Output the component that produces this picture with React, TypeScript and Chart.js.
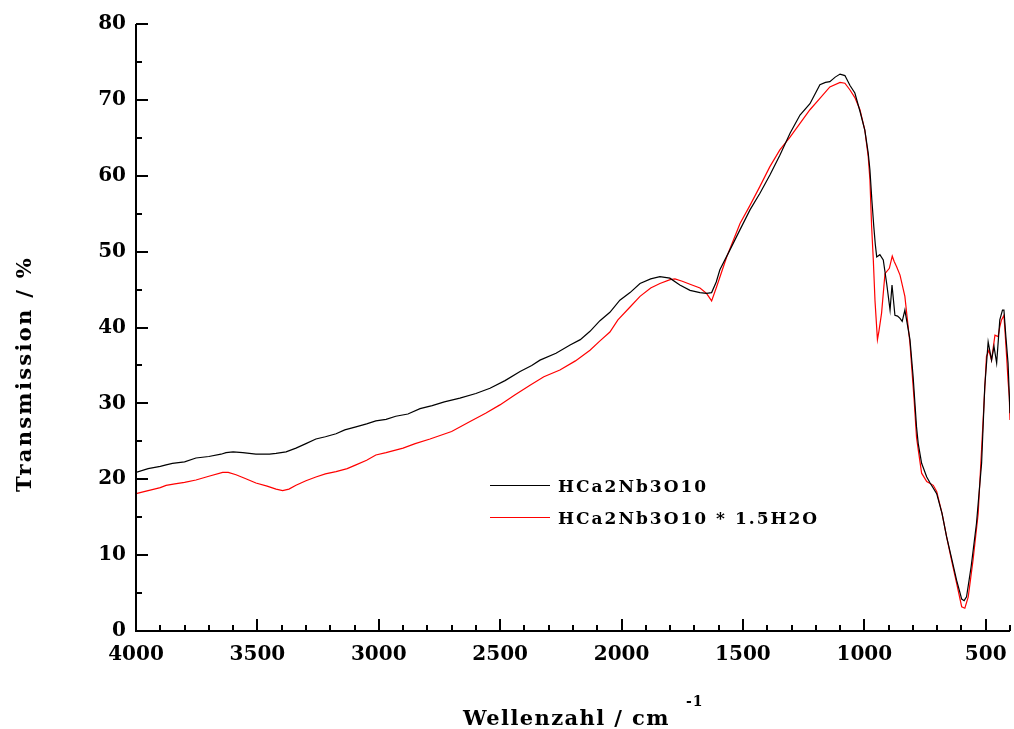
import { useEffect, useRef } from 'react';
import { Chart, registerables } from 'chart.js';

Chart.register(...registerables);

// IR spectrum of the anhydrous phase (wavenumber in cm^-1, transmission in %)
const dryWavenumbers = [
  4000, 3950, 3900, 3876, 3850, 3800, 3753, 3700, 3650, 3629, 3600, 3560, 3506, 3450, 3423, 3382,
  3341, 3300, 3259, 3220, 3176, 3140, 3094, 3050, 3012, 2970, 2930, 2880, 2830, 2780, 2730, 2666,
  2600, 2542, 2480, 2418, 2370, 2336, 2270, 2212, 2170, 2130, 2089, 2048, 2007, 1965, 1924, 1880,
  1842, 1801, 1760, 1718, 1677, 1650, 1629, 1610, 1595, 1554, 1512, 1471, 1430, 1389, 1348, 1306,
  1265, 1224, 1183, 1160, 1142, 1120, 1100, 1080, 1059, 1039, 1018, 998, 984, 977, 969, 961,
  955, 949, 936, 922, 908, 894, 886, 874, 863, 853, 844, 833, 812, 799, 785, 778,
  764, 743, 729, 702, 680, 661, 640, 620, 599, 589, 579, 560, 538, 517, 504, 490,
  476, 466, 455, 442, 431, 425, 417, 408, 400,
];
const dryTransmission = [
  20.9, 21.4, 21.7, 21.9, 22.1, 22.3, 22.8, 23.0, 23.3, 23.5, 23.6, 23.5, 23.3, 23.3, 23.4, 23.6,
  24.1, 24.7, 25.3, 25.6, 26.0, 26.5, 26.9, 27.3, 27.7, 27.9, 28.3, 28.6, 29.3, 29.7, 30.2, 30.7,
  31.3, 32.0, 33.0, 34.2, 35.0, 35.7, 36.6, 37.7, 38.4, 39.5, 40.9, 42.0, 43.6, 44.6, 45.8, 46.4,
  46.7, 46.5, 45.6, 44.9, 44.6, 44.5, 44.6, 46.0, 47.6, 50.2, 52.9, 55.5, 57.7, 60.1, 62.7, 65.6,
  68.0, 69.5, 72.0, 72.3, 72.4, 73.0, 73.4, 73.2, 71.9, 70.9, 68.5, 66.0, 63.0, 60.8, 56.8, 53.3,
  51.0, 49.3, 49.6, 48.9, 45.8, 42.3, 45.6, 41.6, 41.5, 41.2, 40.8, 42.3, 38.4, 33.5, 26.9, 24.7,
  22.1, 20.3, 19.5, 18.1, 15.5, 12.4, 9.5, 6.7, 4.2, 4.0, 4.5, 8.5, 14.2, 22.1, 32.2, 38.1,
  35.7, 37.5, 35.3, 41.0, 42.3, 42.3, 38.8, 35.3, 28.7,
];

// IR spectrum of the hydrated phase
const hydratedWavenumbers = [
  4000, 3950, 3900, 3876, 3840, 3800, 3753, 3700, 3643, 3620, 3588, 3550, 3506, 3460, 3423, 3396,
  3370, 3341, 3300, 3259, 3220, 3176, 3130, 3094, 3050, 3012, 2970, 2900, 2850, 2789, 2700, 2624,
  2560, 2501, 2440, 2377, 2320, 2254, 2190, 2130, 2090, 2048, 2015, 1965, 1924, 1880, 1842, 1800,
  1780, 1750, 1718, 1677, 1650, 1629, 1608, 1567, 1512, 1471, 1430, 1389, 1348, 1306, 1265, 1224,
  1183, 1142, 1100, 1080, 1059, 1039, 1018, 998, 984, 977, 970, 963, 956, 946, 940, 929,
  915, 897, 885, 877, 867, 853, 833, 812, 795, 785, 778, 764, 743, 716, 702, 680,
  661, 640, 620, 599, 586, 572, 552, 531, 510, 497, 487, 476, 462, 449, 442, 435,
  425, 421, 414, 408, 403, 400,
];
const hydratedTransmission = [
  18.1, 18.5, 18.9, 19.2, 19.4, 19.6, 19.9, 20.4, 20.9, 20.9, 20.6, 20.1, 19.5, 19.1, 18.7, 18.5,
  18.7, 19.2, 19.8, 20.3, 20.7, 21.0, 21.4, 21.9, 22.5, 23.2, 23.5, 24.1, 24.7, 25.3, 26.3, 27.6,
  28.7, 29.8, 31.1, 32.4, 33.5, 34.4, 35.6, 37.0, 38.2, 39.4, 41.0, 42.7, 44.1, 45.2, 45.8, 46.3,
  46.4, 46.1, 45.7, 45.2, 44.5, 43.5, 45.4, 49.3, 53.7, 56.1, 58.6, 61.2, 63.4, 65.1, 66.9, 68.7,
  70.2, 71.7, 72.3, 72.2, 71.3, 70.3, 68.7, 66.0, 62.5, 59.5, 53.3, 48.9, 43.5, 38.4, 39.5, 41.9,
  47.1, 47.8, 49.4, 48.7, 48.0, 46.9, 44.1, 37.9, 30.5, 25.5, 23.9, 20.8, 19.7, 19.2, 18.4, 15.5,
  12.4, 9.2, 6.3, 3.2, 3.0, 4.5, 9.4, 15.5, 28.2, 36.2, 37.0, 35.7, 39.0, 38.8, 40.1, 41.0,
  41.6, 39.7, 36.2, 33.0, 30.9, 27.8,
];

const seriesLabels = ['HCa2Nb3O10', 'HCa2Nb3O10 * 1.5H2O'];
const seriesColors = ['#000000', '#ff0000'];

const xMajorTicks = [500, 1000, 1500, 2000, 2500, 3000, 3500, 4000];
const xMinorStep = 100;
const yMajorTicks = [0, 10, 20, 30, 40, 50, 60, 70, 80];
const yMinorStep = 5;

const X_MIN = 400;
const X_MAX = 4000;
const Y_MIN = 0;
const Y_MAX = 80;

const SERIF = '"DejaVu Serif", "Liberation Serif", serif';

const frameAndLabels = {
  id: 'frameAndLabels',
  afterDraw(chart: any) {
    const { ctx, chartArea, scales } = chart;
    const xs = scales.x;
    const ys = scales.y;
    const { left, right, top, bottom } = chartArea;
    ctx.save();
    ctx.strokeStyle = '#000';
    ctx.fillStyle = '#000';
    ctx.lineCap = 'butt';

    // axis lines
    ctx.lineWidth = 2;
    ctx.beginPath();
    ctx.moveTo(left, top);
    ctx.lineTo(left, bottom);
    ctx.lineTo(right, bottom);
    ctx.stroke();

    // x ticks pointing inwards
    for (let v = X_MIN; v <= X_MAX; v += xMinorStep) {
      const px = Math.round(xs.getPixelForValue(v));
      const major = v % 500 === 0;
      ctx.beginPath();
      ctx.moveTo(px, bottom);
      ctx.lineTo(px, bottom - (major ? 12 : 6));
      ctx.stroke();
    }
    // y ticks pointing inwards
    for (let v = Y_MIN; v <= Y_MAX; v += yMinorStep) {
      const py = Math.round(ys.getPixelForValue(v));
      const major = v % 10 === 0;
      ctx.beginPath();
      ctx.moveTo(left, py);
      ctx.lineTo(left + (major ? 12 : 6), py);
      ctx.stroke();
    }

    // axis titles
    ctx.font = `bold 21px ${SERIF}`;
    (ctx as any).letterSpacing = '1.4px';
    ctx.textBaseline = 'alphabetic';
    ctx.textAlign = 'left';
    const xTitle = 'Wellenzahl / cm';
    ctx.fillText(xTitle, 463, 725);
    const xTitleW = ctx.measureText(xTitle).width;
    ctx.font = `bold 14px ${SERIF}`;
    (ctx as any).letterSpacing = '1px';
    ctx.fillText('-1', 463 + xTitleW + 16, 706);

    ctx.save();
    ctx.translate(31, 374);
    ctx.rotate(-Math.PI / 2);
    ctx.font = `bold 21px ${SERIF}`;
    (ctx as any).letterSpacing = '2.3px';
    ctx.textAlign = 'center';
    ctx.fillText('Transmission / %', 0, 0);
    ctx.restore();

    // legend
    const legendRows = [485, 517];
    ctx.font = `bold 17px ${SERIF}`;
    (ctx as any).letterSpacing = '2px';
    ctx.textAlign = 'left';
    ctx.textBaseline = 'middle';
    seriesLabels.forEach((label, i) => {
      const y = legendRows[i];
      ctx.strokeStyle = seriesColors[i];
      ctx.lineWidth = 1.2;
      ctx.beginPath();
      ctx.moveTo(490, y + 0.5);
      ctx.lineTo(550, y + 0.5);
      ctx.stroke();
      ctx.fillStyle = '#000';
      ctx.fillText(label, 558, y + 3);
    });
    ctx.restore();
  },
};

export default function App() {
  const canvasRef = useRef<HTMLCanvasElement>(null);

  useEffect(() => {
    if (!canvasRef.current) return;
    const toPoints = (xs: number[], ys: number[]) => xs.map((x, i) => ({ x, y: ys[i] }));
    const tickFont = { family: SERIF, weight: 'bold' as const, size: 20 };
    const chart = new Chart(canvasRef.current, {
      type: 'line',
      data: {
        datasets: [
          {
            label: seriesLabels[0],
            data: toPoints(dryWavenumbers, dryTransmission),
            borderColor: seriesColors[0],
            borderWidth: 1.2,
            pointRadius: 0,
            tension: 0,
          },
          {
            label: seriesLabels[1],
            data: toPoints(hydratedWavenumbers, hydratedTransmission),
            borderColor: seriesColors[1],
            borderWidth: 1.2,
            pointRadius: 0,
            tension: 0,
          },
        ],
      },
      options: {
        animation: false,
        responsive: false,
        devicePixelRatio: 1,
        layout: { padding: { left: 0, right: 4, top: 24, bottom: 0 } },
        plugins: { legend: { display: false }, tooltip: { enabled: false } },
        scales: {
          x: {
            type: 'linear',
            reverse: true,
            min: X_MIN,
            max: X_MAX,
            afterBuildTicks: (s: any) => {
              s.ticks = xMajorTicks.map((value) => ({ value }));
            },
            afterFit: (s: any) => {
              s.height = 98;
            },
            grid: { display: false, drawTicks: false },
            border: { display: false },
            ticks: {
              callback: (v: any) => String(v),
              font: tickFont,
              color: '#000',
              padding: 12,
              maxRotation: 0,
              autoSkip: false,
            },
          },
          y: {
            type: 'linear',
            min: Y_MIN,
            max: Y_MAX,
            afterBuildTicks: (s: any) => {
              s.ticks = yMajorTicks.map((value) => ({ value }));
            },
            afterFit: (s: any) => {
              s.width = 136;
            },
            grid: { display: false, drawTicks: false },
            border: { display: false },
            ticks: {
              callback: (v: any) => String(v),
              font: tickFont,
              color: '#000',
              padding: 10,
              autoSkip: false,
            },
          },
        },
      },
      plugins: [frameAndLabels],
    });
    return () => chart.destroy();
  }, []);

  return (
    <div style={{ position: 'fixed', left: 0, top: 0, width: 1014, height: 729, background: '#fff' }}>
      <canvas ref={canvasRef} width={1014} height={729} style={{ display: 'block' }} />
    </div>
  );
}
